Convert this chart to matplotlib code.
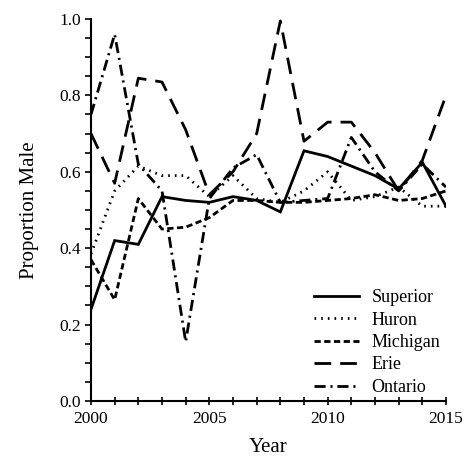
import numpy as np
from matplotlib import pyplot as plt
import matplotlib as mpl

plt.rcParams['font.family'] = ['Liberation Serif', 'DejaVu Serif']
plt.rcParams['lines.scale_dashes'] = False

years = list(range(2000, 2016))

superior = [0.24, 0.42, 0.41, 0.535, 0.525, 0.52, 0.535, 0.525,
            0.495, 0.655, 0.64, 0.615, 0.59, 0.555, 0.625, 0.51]
huron = [0.385, 0.55, 0.615, 0.59, 0.59, 0.535, 0.59, 0.53,
         0.52, 0.55, 0.60, 0.525, 0.535, 0.56, 0.51, 0.51]
michigan = [0.37, 0.265, 0.53, 0.45, 0.455, 0.48, 0.525, 0.525,
            0.52, 0.52, 0.525, 0.53, 0.54, 0.525, 0.53, 0.55]
erie = [0.70, 0.57, 0.845, 0.835, 0.71, 0.54, 0.60, 0.70,
        0.995, 0.68, 0.73, 0.73, 0.65, 0.55, 0.63, 0.80]
ontario = [0.75, 0.96, 0.62, 0.55, 0.155, 0.53, 0.61, 0.645,
           0.52, 0.525, 0.53, 0.69, 0.60, 0.55, 0.62, 0.56]

series = [
    ("Superior", superior, '-'),
    ("Huron", huron, (0, (1.2, 3.6))),
    ("Michigan", michigan, (0, (4.5, 2.5))),
    ("Erie", erie, (0, (12, 6.5))),
    ("Ontario", ontario, (0, (8, 3.5, 1.5, 3.5))),
]

fig = plt.figure(figsize=(4.69, 4.65), dpi=100)
ax = fig.add_axes([91 / 469, 1 - 401 / 465, 355 / 469, 382 / 465])

for name, vals, style in series:
    ax.plot(years, vals, linestyle=style, color='black', linewidth=2.0,
            label=name, dash_capstyle='butt', solid_joinstyle='miter')

ax.set_xlim(2000, 2015)
ax.set_ylim(0, 1.0)

ax.spines['top'].set_visible(False)
ax.spines['right'].set_visible(False)
ax.spines['left'].set_linewidth(1.5)
ax.spines['bottom'].set_linewidth(1.5)

ax.xaxis.set_major_locator(mpl.ticker.MultipleLocator(5))
ax.xaxis.set_minor_locator(mpl.ticker.MultipleLocator(1))
ax.yaxis.set_major_locator(mpl.ticker.MultipleLocator(0.2))
ax.yaxis.set_minor_locator(mpl.ticker.MultipleLocator(0.05))
ax.yaxis.set_major_formatter(mpl.ticker.FormatStrFormatter('%.1f'))

ax.tick_params(axis='x', which='both', direction='inout', length=6, width=1.2,
               labelsize=12.5, pad=4)
ax.tick_params(axis='y', which='both', direction='out', length=4, width=1.2,
               labelsize=12.5, pad=3)

ax.set_xlabel("Year", fontsize=15, labelpad=8)
ax.set_ylabel("Proportion Male", fontsize=15, labelpad=15)

ax.legend(loc='lower right', bbox_to_anchor=(1.015, -0.015), frameon=False,
          fontsize=13, handlelength=2.5, handletextpad=0.7, labelspacing=0.3,
          borderaxespad=0.2)

plt.savefig('out.png', dpi=100)
